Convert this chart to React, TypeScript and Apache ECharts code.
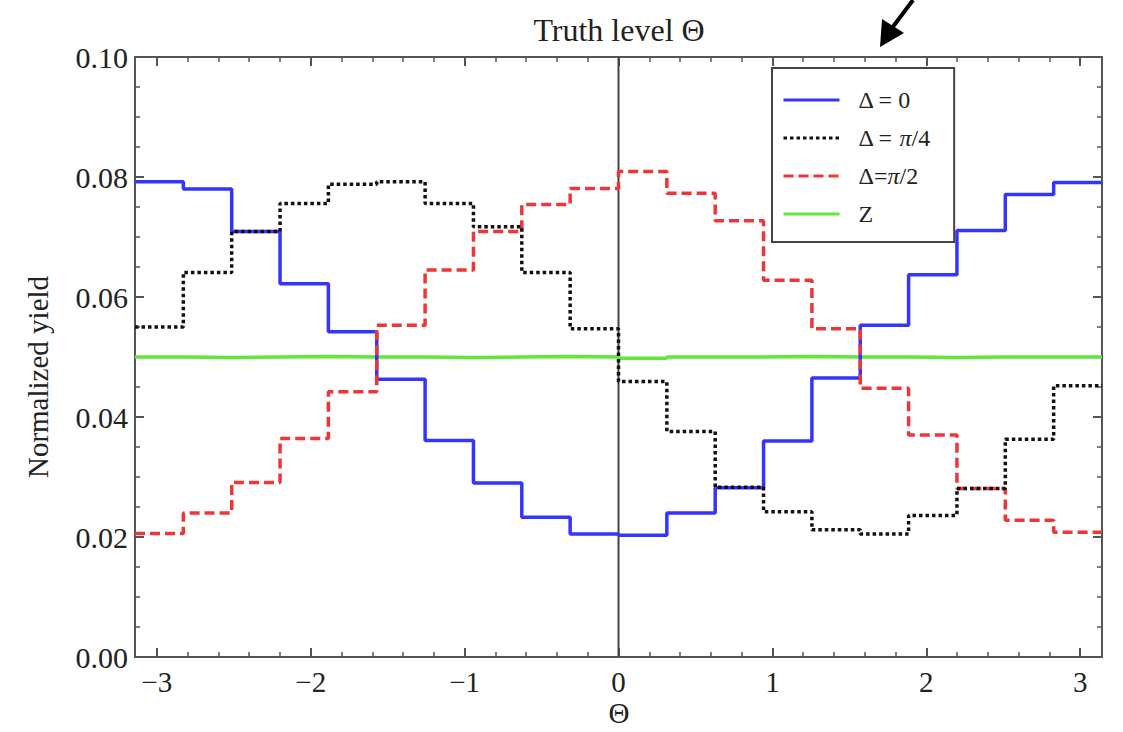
import React, { useEffect, useRef } from "react";
import * as echarts from "echarts";

const BIN_COUNT = 20;
const delta0: number[] = [0.0792, 0.078, 0.0709, 0.0622, 0.0542, 0.0463, 0.0361, 0.029, 0.0233, 0.0205, 0.0203, 0.024, 0.0282, 0.036, 0.0465, 0.0553, 0.0637, 0.0711, 0.0771, 0.0791];
const deltaPi4: number[] = [0.055, 0.0641, 0.0709, 0.0756, 0.0788, 0.0792, 0.0756, 0.0717, 0.0641, 0.0547, 0.0459, 0.0376, 0.0283, 0.0242, 0.0212, 0.0205, 0.0236, 0.0281, 0.0363, 0.0452];
const deltaPi2: number[] = [0.0206, 0.024, 0.0291, 0.0364, 0.0442, 0.0553, 0.0645, 0.0709, 0.0754, 0.0781, 0.0809, 0.0773, 0.0727, 0.0628, 0.0547, 0.0448, 0.037, 0.0281, 0.0228, 0.0208];
const zValues: number[] = [0.05, 0.0499, 0.05, 0.0501, 0.05, 0.05, 0.0499, 0.05, 0.0501, 0.05, 0.0498, 0.05, 0.05, 0.0501, 0.05, 0.05, 0.0499, 0.05, 0.05, 0.05];
const seriesNames: string[] = ["Δ = 0", "Δ = π/4", "Δ=π/2", "Z"];
const xMajorTicks: number[] = [-3, -2, -1, 0, 1, 2, 3];

const FONT = "Liberation Serif";

function stepData(values: number[]): number[][] {
  const w = (2 * Math.PI) / BIN_COUNT;
  const pts = values.map((v, i) => [-Math.PI + i * w, v]);
  pts.push([Math.PI, values[values.length - 1]]);
  return pts;
}

export default function App() {
  const ref = useRef<HTMLDivElement>(null);
  useEffect(() => {
    document.body.style.margin = "0";
    if (!ref.current) return;
    const chart = echarts.init(ref.current, undefined, { renderer: "svg" });
    const xMinor: number[] = [];
    for (let k = -15; k <= 15; k++) {
      const v = Math.round(k * 2) / 10;
      if (Math.abs(v - Math.round(v)) > 1e-9) xMinor.push(v);
    }
    const frame = { color: "#555", width: 2 };
    const minusFmt = (v: number) => (v < 0 ? "\u2212" + Math.abs(v) : String(v));
    const xBase = { type: "value", min: -Math.PI, max: Math.PI, splitLine: { show: false } };
    const yBase = { type: "value", min: 0, max: 0.1, interval: 0.02, splitLine: { show: false } };
    const richName = (name: string) => {
      if (name.indexOf("π") >= 0) {
        const [a, b] = name.split("π");
        return `{n|${a}}{i|π}{n|${b}}`;
      }
      return `{n|${name}}`;
    };
    const colors = ["#3434ff", "#111111", "#ee3636", "#5ee83a"];
    const types: any[] = ["solid", [3.5, 3], [10, 5], "solid"];
    const values = [delta0, deltaPi4, deltaPi2, zValues];
    const order = [3, 0, 2, 1];
    const series: any[] = [
      {
        type: "line",
        name: "zero",
        data: [[0, 0], [0, 0.1]],
        symbol: "none",
        silent: true,
        lineStyle: { color: "#444", width: 2 },
        xAxisIndex: 0,
        yAxisIndex: 0,
      },
    ];
    order.forEach((i) => {
      series.push({
        type: "line",
        name: seriesNames[i],
        data: stepData(values[i]),
        step: "end",
        symbol: "none",
        color: colors[i],
        itemStyle: { opacity: 0 },
        lineStyle: { color: colors[i], width: 3.5, type: types[i] },
        xAxisIndex: 0,
        yAxisIndex: 0,
      });
    });
    chart.setOption({
      animation: false,
      backgroundColor: "#fff",
      grid: { left: 135, right: 21, top: 57, bottom: 75, outerBoundsMode: "none" },
      xAxis: [
        {
          ...xBase,
          position: "bottom",
          axisLine: { show: true, onZero: false, lineStyle: frame },
          axisTick: { show: true, inside: true, length: 9, customValues: xMajorTicks, lineStyle: frame },
          axisLabel: { customValues: xMajorTicks, formatter: minusFmt, fontFamily: FONT, fontSize: 29, color: "#222", margin: 10 },
        },
        {
          ...xBase,
          position: "bottom",
          axisLine: { show: false, onZero: false },
          axisTick: { show: true, inside: true, length: 5, customValues: xMinor, lineStyle: { color: "#555", width: 1.5 } },
          axisLabel: { show: false },
        },
        {
          ...xBase,
          position: "top",
          axisLine: { show: true, onZero: false, lineStyle: frame },
          axisTick: { show: true, inside: true, length: 9, customValues: xMajorTicks, lineStyle: frame },
          axisLabel: { show: false },
        },
        {
          ...xBase,
          position: "top",
          axisLine: { show: false, onZero: false },
          axisTick: { show: true, inside: true, length: 5, customValues: xMinor, lineStyle: { color: "#555", width: 1.5 } },
          axisLabel: { show: false },
        },
      ],
      yAxis: [
        {
          ...yBase,
          position: "left",
          axisLine: { show: true, onZero: false, lineStyle: frame },
          axisTick: { show: true, inside: true, length: 9, lineStyle: frame },
          minorTick: { show: true, splitNumber: 4, length: 5, lineStyle: { color: "#555", width: 1.5 } },
          axisLabel: { formatter: (v: number) => v.toFixed(2), fontFamily: FONT, fontSize: 30, color: "#222", margin: 7 },
        },
        {
          ...yBase,
          position: "right",
          axisLine: { show: true, onZero: false, lineStyle: frame },
          axisTick: { show: true, inside: true, length: 9, lineStyle: frame },
          minorTick: { show: true, splitNumber: 4, length: 5, lineStyle: { color: "#555", width: 1.5 } },
          axisLabel: { show: false },
        },
      ],
      legend: {
        data: seriesNames,
        orient: "vertical",
        left: 772,
        top: 68,
        padding: [20, 24, 16, 10],
        itemWidth: 56,
        itemHeight: 22,
        itemGap: 14,
        backgroundColor: "#fff",
        borderColor: "#444",
        borderWidth: 2,
        borderRadius: 0,
        itemStyle: { opacity: 0 },
        lineStyle: { width: 3 },
        formatter: richName,
        textStyle: {
          padding: [0, 0, 0, 14],
          rich: {
            n: { fontFamily: FONT, fontSize: 24, color: "#222", lineHeight: 22 },
            i: { fontFamily: FONT, fontSize: 24, fontStyle: "italic", color: "#222", lineHeight: 22 },
          },
        },
      },
      graphic: [
        {
          type: "text",
          x: 619,
          y: 30,
          style: { text: "Truth level Θ", fontFamily: FONT, fontSize: 32, fill: "#222", textAlign: "center", textVerticalAlign: "middle" },
        },
        {
          type: "text",
          x: 38,
          y: 377,
          rotation: Math.PI / 2,
          style: { text: "Normalized yield", fontFamily: FONT, fontSize: 29, fill: "#222", textAlign: "center", textVerticalAlign: "middle" },
        },
        {
          type: "text",
          x: 619,
          y: 713,
          style: { text: "Θ", fontFamily: FONT, fontSize: 29, fill: "#222", textAlign: "center", textVerticalAlign: "middle" },
        },
        {
          type: "line",
          shape: { x1: 913, y1: 0, x2: 892, y2: 28 },
          style: { stroke: "#000", lineWidth: 4 },
        },
        {
          type: "polygon",
          shape: { points: [[880, 47], [882, 19], [904, 33]] },
          style: { fill: "#000" },
        },
      ],
      series,
    });
    return () => chart.dispose();
  }, []);
  return <div ref={ref} style={{ width: 1123, height: 732 }} />;
}
